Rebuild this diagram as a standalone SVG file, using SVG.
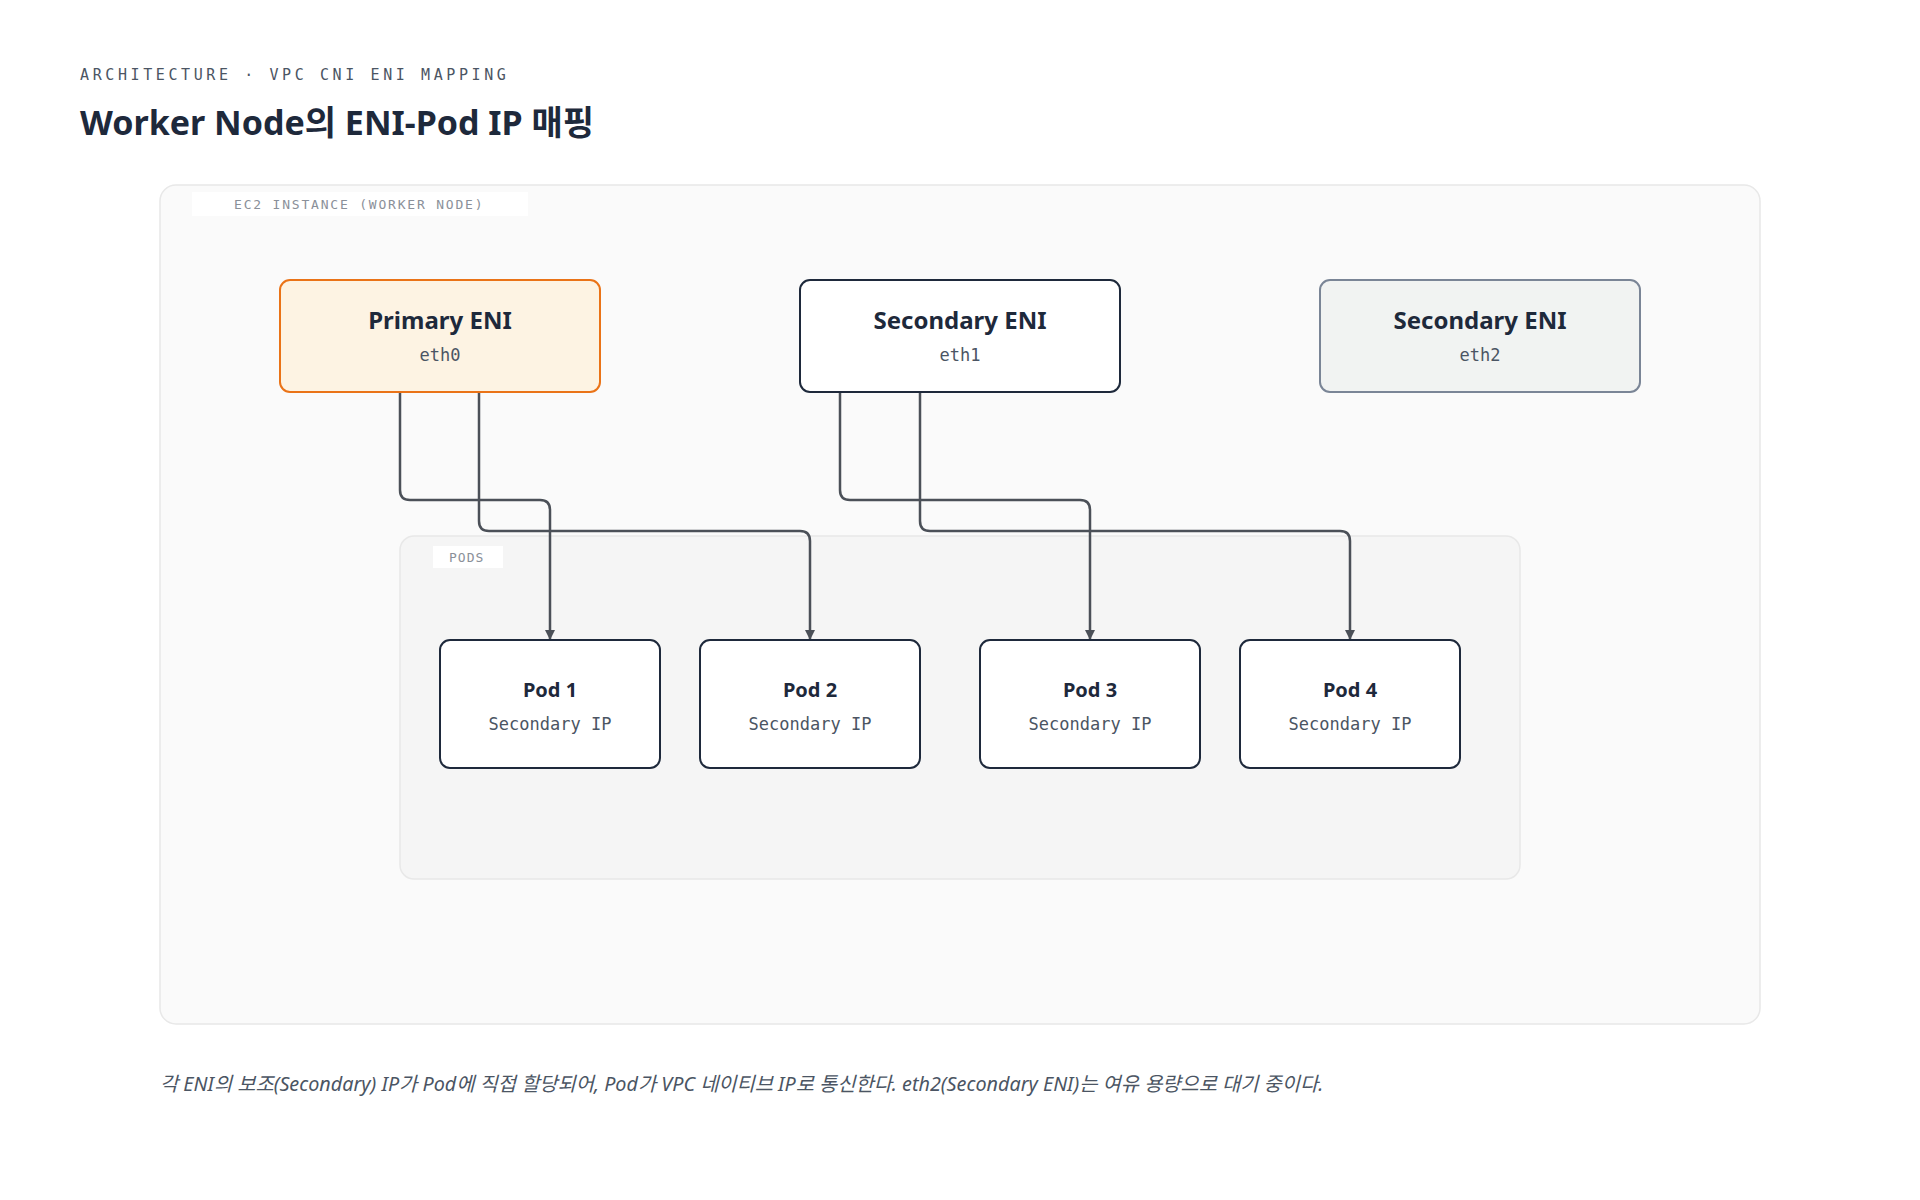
<svg xmlns="http://www.w3.org/2000/svg" width="1920" height="1200" viewBox="0 0 1920 1200">
<style>
.mono{font-family:"DejaVu Sans Mono","Liberation Mono",monospace}
.sans{font-family:"Noto Sans","Noto Sans CJK KR",sans-serif}
.node{fill:#fff;stroke:#1e293b;stroke-width:2}
.t{font-size:24px;font-weight:700;fill:#1e293b;text-anchor:middle}
.s{font-size:17px;fill:#4b5563;text-anchor:middle}
.pt{font-size:20px;font-weight:700;fill:#1e293b;text-anchor:middle}
.edge{fill:none;stroke:#4b5058;stroke-width:2.5;marker-end:url(#ah)}
</style>
<defs><marker id="ah" viewBox="0 0 10 10" refX="10" refY="5" markerWidth="10" markerHeight="14" markerUnits="userSpaceOnUse" orient="auto"><path d="M0,0 L10,5 L0,10 z" fill="#4b5058"/></marker></defs>
<rect width="1920" height="1200" fill="#fff"/>
<text x="80" y="80" class="mono" font-size="15" letter-spacing="3.6" fill="#4b5563">ARCHITECTURE · VPC CNI ENI MAPPING</text>
<text x="80" y="135" class="sans" font-size="34" font-weight="700" fill="#1e293b">Worker Node의 ENI-Pod IP 매핑</text>
<g id="ec2">
<rect x="160" y="185" width="1600" height="839" rx="16" fill="#fafafa" stroke="#e8e8e8" stroke-width="1.5"/>
<rect x="192" y="192" width="336" height="24" fill="#fff"/>
<text x="234" y="209" class="mono" font-size="13" letter-spacing="1.8" fill="#8a9099">EC2 INSTANCE (WORKER NODE)</text>
</g>
<g id="pods">
<rect x="400" y="536" width="1120" height="343" rx="14" fill="#f5f5f5" stroke="#e8e8e8" stroke-width="1.5"/>
<rect x="433" y="546" width="70" height="22" fill="#fff"/>
<text x="449" y="562" class="mono" font-size="13" letter-spacing="1" fill="#8a9099">PODS</text>
</g>
<g id="connectors">
<path class="edge" d="M400,392 V490 Q400,500 410,500 H540 Q550,500 550,510 V640"/>
<path class="edge" d="M479,392 V521 Q479,531 489,531 H800 Q810,531 810,541 V640"/>
<path class="edge" d="M840,392 V490 Q840,500 850,500 H1080 Q1090,500 1090,510 V640"/>
<path class="edge" d="M920,392 V521 Q920,531 930,531 H1340 Q1350,531 1350,541 V640"/>
</g>
<g id="eni0"><rect x="280" y="280" width="320" height="112" rx="10" fill="#fdf3e3" stroke="#ea7317" stroke-width="2"/>
<text x="440" y="329" class="sans t">Primary ENI</text><text x="440" y="361" class="mono s">eth0</text></g>
<g id="eni1"><rect x="800" y="280" width="320" height="112" rx="10" class="node"/>
<text x="960" y="329" class="sans t">Secondary ENI</text><text x="960" y="361" class="mono s">eth1</text></g>
<g id="eni2"><rect x="1320" y="280" width="320" height="112" rx="10" fill="#f1f3f2" stroke="#7a8596" stroke-width="2"/>
<text x="1480" y="329" class="sans t">Secondary ENI</text><text x="1480" y="361" class="mono s">eth2</text></g>
<g id="pod1"><rect x="440" y="640" width="220" height="128" rx="10" class="node"/><text x="550" y="697" class="sans pt">Pod 1</text><text x="550" y="730" class="mono s">Secondary IP</text></g>
<g id="pod2"><rect x="700" y="640" width="220" height="128" rx="10" class="node"/><text x="810" y="697" class="sans pt">Pod 2</text><text x="810" y="730" class="mono s">Secondary IP</text></g>
<g id="pod3"><rect x="980" y="640" width="220" height="128" rx="10" class="node"/><text x="1090" y="697" class="sans pt">Pod 3</text><text x="1090" y="730" class="mono s">Secondary IP</text></g>
<g id="pod4"><rect x="1240" y="640" width="220" height="128" rx="10" class="node"/><text x="1350" y="697" class="sans pt">Pod 4</text><text x="1350" y="730" class="mono s">Secondary IP</text></g>
<text x="160" y="1091" class="sans" font-size="19.8" font-style="italic" fill="#4b5563">각 ENI의 보조(Secondary) IP가 Pod에 직접 할당되어, Pod가 VPC 네이티브 IP로 통신한다. eth2(Secondary ENI)는 여유 용량으로 대기 중이다.</text>
</svg>
